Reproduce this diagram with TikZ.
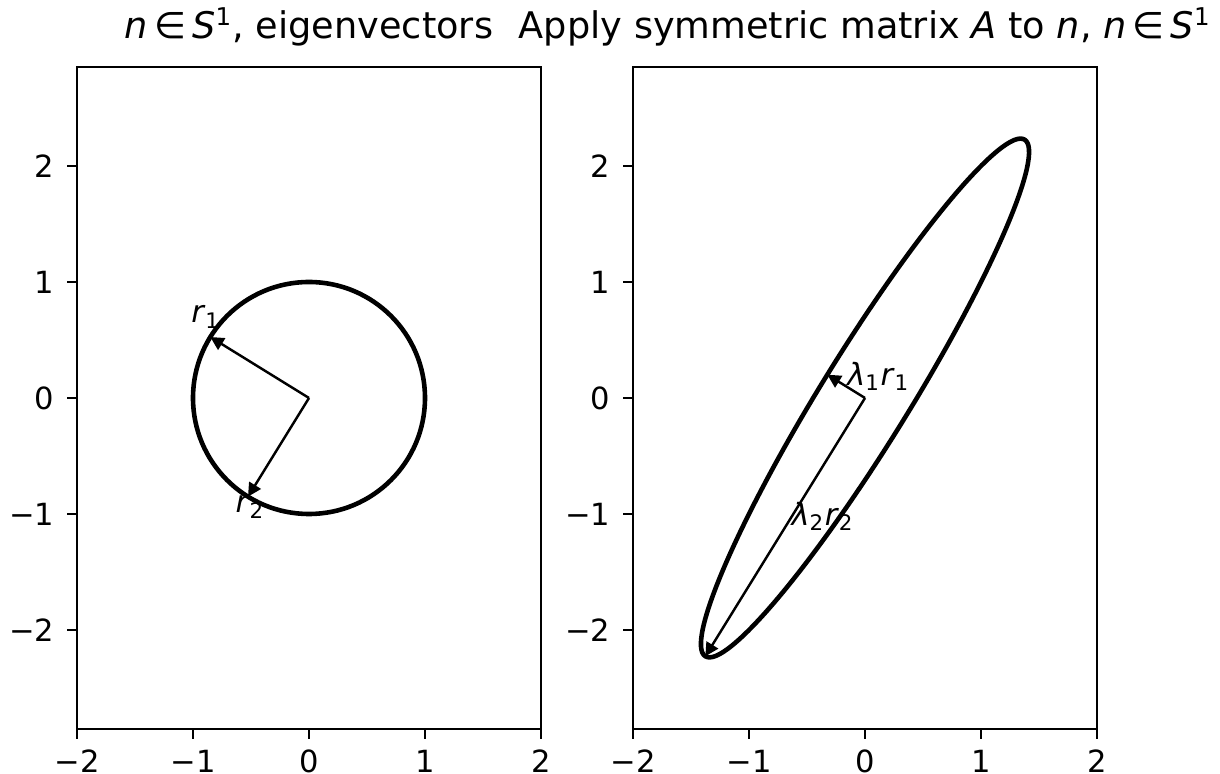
\documentclass[tikz,border=0pt]{standalone}
\usepackage{fontspec}
\setmainfont{DejaVu Sans}
\usetikzlibrary{arrows.meta}

\begin{document}
\begin{tikzpicture}[
    x=1.334cm, y=1.334cm,
    spine/.style={line width=0.8pt},
    tickmark/.style={line width=0.8pt},
    ticklbl/.style={font=\fontsize{10}{12}\selectfont, inner sep=0pt},
    curve/.style={line width=1.5pt},
    vec/.style={line width=0.8pt, -{Triangle[length=4.4pt, width=4.4pt]}},
    lbl/.style={font=\fontsize{10}{12}\selectfont, inner sep=0pt, anchor=base west},
    ttl/.style={font=\fontsize{12}{14}\selectfont, inner sep=0pt, anchor=base}
]
\useasboundingbox (-2.6638,-3.2414) rectangle (7.8534,3.4310);

% two axes frames with ticks
\foreach \ax/\sx in {L/0, R/4.7931} {
  \begin{scope}[shift={(\sx,0)}]
    \draw[spine] (-2,-2.853) rectangle (2,2.853);
    \foreach \v/\t [count=\i] in {-2/−2, -1/−1, 0/0, 1/1, 2/2} {
      \draw[tickmark] (\v,-2.853) -- ++(0,-0.09);
      \node[ticklbl, anchor=north] (xt\ax\i) at (\v,-3.03) {\t};
      \draw[tickmark] (-2,\v) -- ++(-0.09,0);
      \node[ticklbl, anchor=east] (yt\ax\i) at (-2.19,\v) {\t};
    }
  \end{scope}
}

% left: unit circle and eigenvectors
\coordinate (o1) at (0,0);
\coordinate (r1) at (-0.8507,0.5257);
\coordinate (r2) at (-0.5257,-0.8507);
\draw[curve] (o1) circle[radius=1];
\draw[vec] (o1) -- (r1);
\draw[vec] (o1) -- (r2);
\node[lbl] (lr1) at (-1.02,0.647) {\textit{r}\textsubscript{1}};
\node[lbl] (lr2) at (-0.638,-0.991) {\textit{r}\textsubscript{2}};
\node[ttl] (ttl1) at (0,3.095) {\textit{n}\,∈\,\textit{S}\textsuperscript{1}, eigenvectors};

% right: image of the circle under A
\begin{scope}[shift={(4.7931,0)}]
  \coordinate (o2) at (0,0);
  \coordinate (s1) at (-0.3249,0.2008);
  \coordinate (s2) at (-1.3764,-2.2270);
  \draw[curve, rotate=58.2825] (o2) ellipse[x radius=2.618, y radius=0.382];
  \draw[vec] (o2) -- (s1);
  \draw[vec] (o2) -- (s2);
  \node[lbl] (ls1) at (-0.158,0.112) {\textit{λ}\textsubscript{1}\textit{r}\textsubscript{1}};
  \node[lbl] (ls2) at (-0.638,-1.095) {\textit{λ}\textsubscript{2}\textit{r}\textsubscript{2}};
  \node[ttl] (ttl2) at (0,3.095) {Apply symmetric matrix \textit{A} to \textit{n}, \textit{n}\,∈\,\textit{S}\textsuperscript{1}};
\end{scope}
\end{tikzpicture}
\end{document}
